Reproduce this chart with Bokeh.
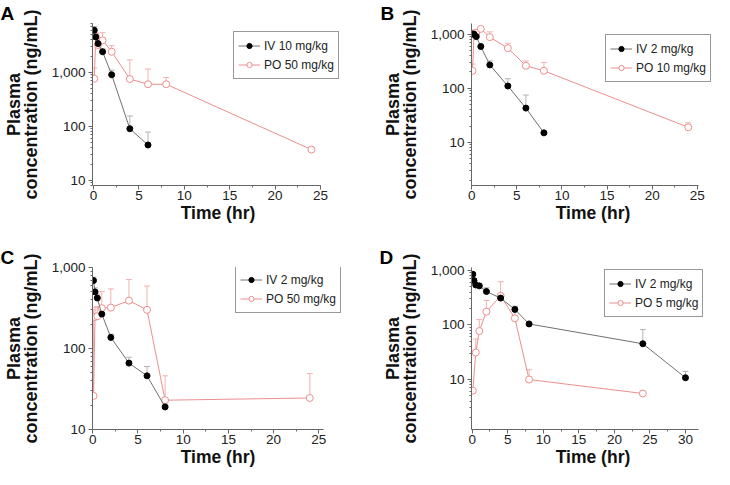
from bokeh.plotting import figure
from bokeh.layouts import gridplot
from bokeh.models import (ColumnDataSource, Whisker, TeeHead, Legend, LegendItem,
                          Range1d, FixedTicker, SingleIntervalTicker, NumeralTickFormatter)
from bokeh.embed import file_html
from bokeh.resources import INLINE

FONT = "Liberation Sans"

# ---------------- data ----------------
# Panel A
tA_iv = [0.083, 0.25, 0.5, 1, 2, 4, 6]
cA_iv = [6000, 4500, 3400, 2400, 900, 90, 45]
eA_iv = [7000, 5200, 3900, 2700, 1100, 155, 78]
tA_po = [0.083, 0.25, 0.5, 1, 2, 4, 6, 8, 24]
cA_po = [760, 4600, 3200, 3900, 2400, 750, 600, 600, 37]
eA_po = [1200, 5400, 4200, 5400, 3100, 1700, 1150, 800, 40]

# Panel B
tB_iv = [0.083, 0.25, 0.5, 1, 2, 4, 6, 8]
cB_iv = [1000, 1000, 900, 590, 270, 110, 43, 15]
eB_iv = [1150, 1100, 1000, 650, 320, 150, 75, 15]
tB_po = [0.083, 0.25, 0.5, 1, 2, 4, 6, 8, 24]
cB_po = [210, 1000, 1050, 1250, 880, 550, 260, 210, 19]
eB_po = [280, 1200, 1200, 1350, 1100, 680, 320, 300, 23]

# Panel C
tC_iv = [0.083, 0.25, 0.5, 1, 2, 4, 6, 8]
cC_iv = [690, 500, 420, 266, 137, 66, 46, 19]
eC_iv = [760, 560, 470, 300, 150, 78, 60, 19]
tC_po = [0.083, 0.25, 0.5, 1, 2, 4, 6, 8, 24]
cC_po = [26, 245, 250, 315, 320, 390, 300, 23, 24.5]
eC_po = [300, 320, 330, 505, 545, 710, 590, 46, 49]

# Panel D
tD_iv = [0.083, 0.25, 0.5, 1, 2, 4, 6, 8, 24, 30]
cD_iv = [850, 650, 540, 520, 410, 310, 192, 104, 45, 10.7]
eD_iv = [900, 700, 580, 560, 480, 360, 220, 110, 82, 14]
tD_po = [0.083, 0.5, 1, 2, 4, 6, 8, 24]
cD_po = [6.2, 31, 77, 175, 340, 132, 9.9, 5.5]
eD_po = [6.2, 55, 125, 280, 620, 190, 15, 5.5]

labels_iv = ["IV 10 mg/kg", "IV 2 mg/kg", "IV 2 mg/kg", "IV 2 mg/kg"]
labels_po = ["PO 50 mg/kg", "PO 10 mg/kg", "PO 50 mg/kg", "PO 5 mg/kg"]
letters = ["A", "B", "C", "D"]

IV_MARK = "#000000"
IV_LINE = "#707070"
IV_ERR = "#b4b4b4"
PO_COL = "#ee8e8e"
PO_ERR = "#f2b2b2"

Y_MAJOR = [10 ** k for k in range(0, 5)]
Y_MINOR = [m * 10 ** k for k in range(0, 5) for m in range(2, 10)]

LEG_PAD = 4
LEG_ROW = 19
LEG_H = 2 * LEG_PAD + 2 * LEG_ROW
TITLE_H = 24


def panel(letter, t_iv, c_iv, e_iv, t_po, c_po, e_po, lab_iv, lab_po,
          xr, x_axis_end, yr, width, height, borders, leg_x, leg_top):
    bl, br, bt, bb = borders
    frame_h = height - max(bt, TITLE_H) - bb
    p = figure(width=width, height=height, y_axis_type="log",
               x_range=Range1d(*xr), y_range=Range1d(*yr),
               output_backend="svg", toolbar_location=None,
               min_border_left=bl, min_border_right=br,
               min_border_top=bt, min_border_bottom=bb,
               title=letter, title_location="above")
    p.outline_line_color = None
    p.xgrid.visible = False
    p.ygrid.visible = False
    p.background_fill_color = "white"
    p.border_fill_color = "white"

    p.title.align = "left"
    p.title.offset = -bl
    p.title.standoff = 0
    p.title.text_font = FONT
    p.title.text_font_style = "bold"
    p.title.text_font_size = "19px"
    p.title.text_line_height = 0.8
    p.title.text_color = "#000000"

    s_iv = ColumnDataSource(dict(t=t_iv, c=c_iv, e=e_iv))
    s_po = ColumnDataSource(dict(t=t_po, c=c_po, e=e_po))

    for src, col in ((s_iv, IV_ERR), (s_po, PO_ERR)):
        w = Whisker(source=src, base="t", upper="e", lower="c", dimension="height",
                    line_color=col, line_width=1,
                    upper_head=TeeHead(size=6, line_color=col, line_width=1),
                    lower_head=None)
        p.add_layout(w)

    l_po = p.line("t", "c", source=s_po, line_color=PO_COL, line_width=1)
    m_po = p.scatter("t", "c", source=s_po, marker="circle", size=7,
                     line_color=PO_COL, fill_color="white", line_width=1)
    l_iv = p.line("t", "c", source=s_iv, line_color=IV_LINE, line_width=1)
    m_iv = p.scatter("t", "c", source=s_iv, marker="circle", size=6,
                     line_color=IV_MARK, fill_color=IV_MARK)

    leg = Legend(items=[LegendItem(label=lab_iv, renderers=[l_iv, m_iv]),
                        LegendItem(label=lab_po, renderers=[l_po, m_po])],
                 location=(leg_x, frame_h - leg_top - LEG_H),
                 padding=LEG_PAD, spacing=0, margin=0,
                 glyph_width=22, glyph_height=13, label_height=LEG_ROW, label_standoff=4,
                 label_text_font=FONT, label_text_font_size="12px",
                 label_text_color="#222222",
                 border_line_color="#333333", border_line_width=1,
                 background_fill_color="white", background_fill_alpha=1.0)
    p.add_layout(leg)

    # axes
    p.xaxis.ticker = SingleIntervalTicker(interval=5, num_minor_ticks=2)
    p.xaxis.bounds = (xr[0], x_axis_end)
    p.yaxis.ticker = FixedTicker(ticks=Y_MAJOR, minor_ticks=Y_MINOR)
    p.yaxis.formatter = NumeralTickFormatter(format="0,0")
    for ax in (p.xaxis[0], p.yaxis[0]):
        ax.axis_line_color = "#666666"
        ax.major_tick_line_color = "#666666"
        ax.minor_tick_line_color = "#666666"
        ax.major_tick_in = 0
        ax.major_tick_out = 4
        ax.minor_tick_in = 0
        ax.minor_tick_out = 2
        ax.major_label_text_font = FONT
        ax.major_label_text_font_size = "13.5px"
        ax.major_label_text_color = "#222222"
        ax.axis_label_text_font = FONT
        ax.axis_label_text_font_style = "bold"
        ax.axis_label_text_color = "#111111"
    p.xaxis.axis_label = "Time (hr)"
    p.xaxis.axis_label_text_font_size = "17.5px"
    p.xaxis.major_label_standoff = 1
    p.xaxis.axis_label_standoff = 0
    p.yaxis.axis_label = "Plasma\nconcentration (ng/mL)"
    p.yaxis.axis_label_text_font_size = "18px"
    p.yaxis.axis_label_text_line_height = 0.85
    p.yaxis.major_label_standoff = 3
    p.yaxis.axis_label_standoff = 8
    return p


pA = panel(letters[0], tA_iv, cA_iv, eA_iv, tA_po, cA_po, eA_po, labels_iv[0], labels_po[0],
           (-0.11, 27.53), 25.05, (8, 8000), 379, 225, (92, 36, 20, 40), 141, 9)
pB = panel(letters[1], tB_iv, cB_iv, eB_iv, tB_po, cB_po, eB_po, labels_iv[1], labels_po[1],
           (-0.03, 26.91), 25.15, (1.6, 1570), 335, 225, (91, 0, 20, 40), 134, 12)
pC = panel(letters[2], tC_iv, cC_iv, eC_iv, tC_po, cC_po, eC_po, labels_iv[2], labels_po[2],
           (-0.03, 27.73), 25.5, (10, 1000), 379, 244, (92, 36, 42, 40), 143, 0)
pD = panel(letters[3], tD_iv, cD_iv, eD_iv, tD_po, cD_po, eD_po, labels_iv[3], labels_po[3],
           (-0.1, 34.08), 31.8, (1.2, 1130), 335, 244, (92, 0, 42, 40), 133, 4)

grid = gridplot([[pA, pB], [pC, pD]], toolbar_location=None)

open("out.html", "w").write(file_html(grid, INLINE))
